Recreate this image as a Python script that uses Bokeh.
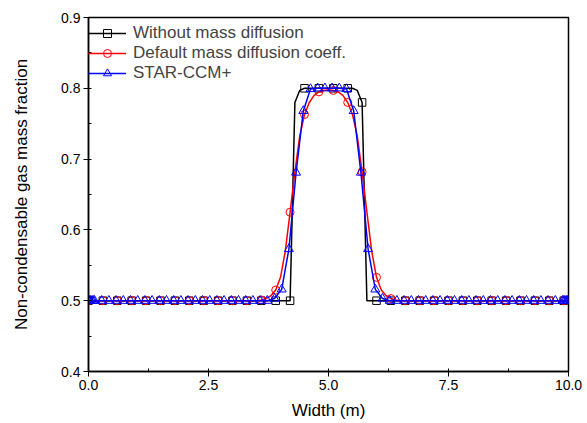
from bokeh.plotting import figure
from bokeh.models import Legend, LegendItem, SingleIntervalTicker, PrintfTickFormatter, Range1d
from bokeh.embed import file_html
from bokeh.resources import INLINE

# ---- data ----
# Without mass diffusion (0.1 m grid, 0.0 .. 10.0)
x_nodiff = [round(0.1 * i, 1) for i in range(101)]
y_nodiff = ([0.5] * 43 + [0.78, 0.797] + [0.8] * 11 + [0.797, 0.78] + [0.5] * 43)

# Default mass diffusion coeff. (0.1 m grid)
x_default = [round(0.1 * i, 1) for i in range(101)]
y_default = ([0.5] * 36 +
             [0.501, 0.503, 0.507, 0.515, 0.533, 0.570, 0.625, 0.682, 0.732, 0.763,
              0.780, 0.790, 0.795, 0.797, 0.798, 0.797, 0.795, 0.790, 0.780,
              0.763, 0.732, 0.682, 0.625, 0.570, 0.533, 0.515, 0.507, 0.503, 0.501] +
             [0.5] * 36)

# STAR-CCM+ (refined near walls, 0.15 m spacing elsewhere)
x_star = ([0.0, 0.02, 0.045, 0.075, 0.1] +
          [round(0.125 + 0.15 * i, 3) for i in range(66)] +
          [9.9, 9.925, 9.955, 9.98, 10.0])
y_star = ([0.5] * 5 +
          [0.5] * 25 + [0.503, 0.516, 0.573, 0.681, 0.768, 0.799, 0.800, 0.800] +
          [0.800, 0.800, 0.799, 0.768, 0.681, 0.573, 0.516, 0.503] + [0.5] * 25 +
          [0.5] * 5)

labels = ["Without mass diffusion", "Default mass diffusion coeff.", "STAR-CCM+"]
FONT = "Liberation Sans"

W, H = 587, 423
BL, BR, BT, BB = 88, 19, 17, 52
p = figure(width=W, height=H, output_backend="svg", toolbar_location=None,
           x_range=Range1d(0, 10), y_range=Range1d(0.4, 0.9),
           min_border_left=BL, min_border_right=BR, min_border_top=BT, min_border_bottom=BB)

p.grid.visible = False
p.outline_line_color = "black"
p.outline_line_width = 1.5
p.background_fill_color = "white"
p.border_fill_color = "white"

# lines + markers
l1 = p.line(x_nodiff, y_nodiff, line_color="black", line_width=1.5)
s1 = p.scatter(x_nodiff[::3], y_nodiff[::3], marker="square", size=7.5,
               line_color="black", fill_color=None, line_width=1)
l2 = p.line(x_default, y_default, line_color="red", line_width=1.5)
s2 = p.scatter(x_default[::3], y_default[::3], marker="circle", size=8,
               line_color="red", fill_color=None, line_width=1)
l3 = p.line(x_star, y_star, line_color="blue", line_width=1.5)
s3 = p.scatter(x_star, y_star, marker="triangle", size=9,
               line_color="blue", fill_color=None, line_width=1)

frame_h = H - BT - BB
leg_h = 2 * 4 + 3 * 20
legend = Legend(items=[LegendItem(label=labels[0], renderers=[l1, s1]),
                       LegendItem(label=labels[1], renderers=[l2, s2]),
                       LegendItem(label=labels[2], renderers=[l3, s3])],
                location=(0, frame_h - leg_h + 2), margin=0, padding=4, spacing=0,
                glyph_width=38, glyph_height=20, label_height=20, label_standoff=7,
                label_text_font=FONT, label_text_font_size="17px",
                border_line_color=None, background_fill_alpha=0)
p.add_layout(legend)

# axes
p.xaxis.ticker = SingleIntervalTicker(interval=2.5, num_minor_ticks=2)
p.yaxis.ticker = SingleIntervalTicker(interval=0.1, num_minor_ticks=2)
p.xaxis.formatter = PrintfTickFormatter(format="%.1f")
p.yaxis.formatter = PrintfTickFormatter(format="%.1f")
for ax in (p.xaxis, p.yaxis):
    ax.axis_line_color = "black"
    ax.axis_line_width = 1.5
    ax.major_tick_out = 5
    ax.major_tick_in = 0
    ax.minor_tick_in = 3
    ax.minor_tick_out = 0
    ax.major_tick_line_color = "black"
    ax.minor_tick_line_color = "black"
    ax.major_label_text_font = FONT
    ax.major_label_text_font_size = "14px"
    ax.major_label_text_color = "black"
    ax.axis_label_text_font = FONT
    ax.axis_label_text_font_size = "17px"
    ax.axis_label_text_font_style = "normal"
    ax.axis_label_text_color = "black"

p.xaxis.axis_label = "Width (m)"
p.yaxis.axis_label = "Non-condensable gas mass fraction"
p.xaxis.major_label_standoff = 3
p.xaxis.axis_label_standoff = 8
p.yaxis.major_label_standoff = 3
p.yaxis.axis_label_standoff = 27

open("out.html", "w").write(file_html(p, INLINE))
